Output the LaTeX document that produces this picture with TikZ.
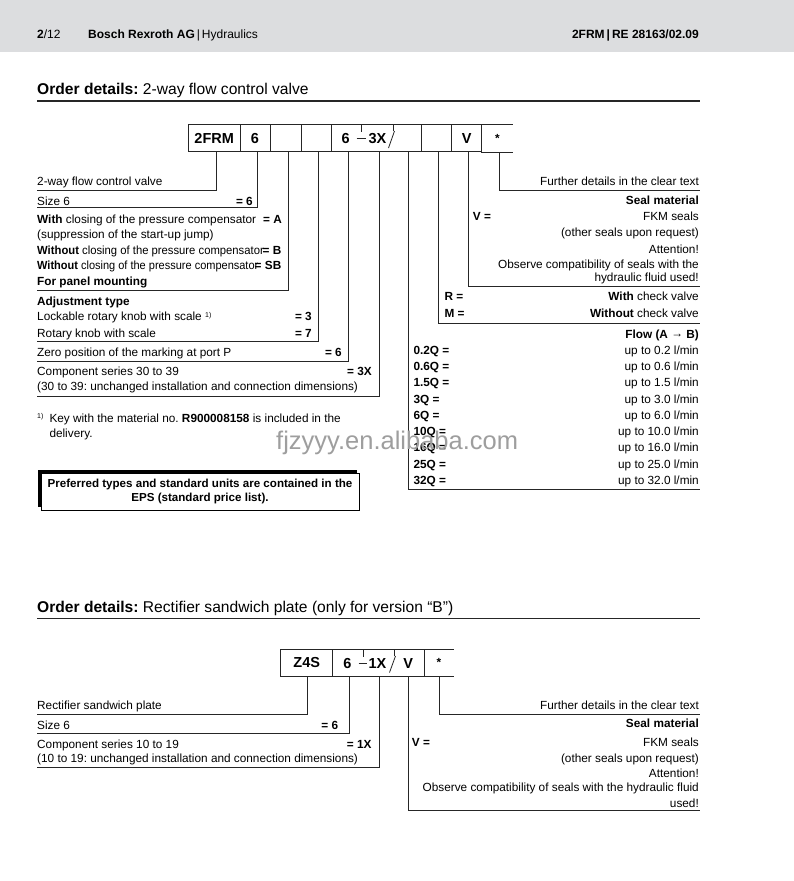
\documentclass[tikz,border=0pt]{standalone}
\usepackage{fontspec}
\setmainfont{Liberation Sans}
\newcommand{\myfs}{\fontsize{11.8}{13}\selectfont}
\newcommand{\mysup}[1]{\raisebox{0.5ex}{\fontsize{7}{8}\selectfont #1}}
\definecolor{hdrgray}{HTML}{DCDDDF}
\frenchspacing
\begin{document}
\begin{tikzpicture}[x=1pt,y=-1pt,
 lbl/.style={anchor=base west,inner sep=0pt,font=\myfs},
 lblr/.style={anchor=base east,inner sep=0pt,font=\myfs},
 blbl/.style={anchor=base west,inner sep=0pt,font=\myfs\bfseries},
 blblr/.style={anchor=base east,inner sep=0pt,font=\myfs\bfseries},
 lead/.style={line width=0.8pt,draw=black!85},
 cell/.style={draw=black!85,line width=0.8pt,minimum height=27pt,inner sep=0pt,font=\fontsize{14.5}{16}\selectfont\bfseries},
 celltxt/.style={anchor=base,inner sep=0pt,font=\fontsize{14.5}{16}\selectfont\bfseries},
 hdr/.style={anchor=base west,inner sep=0pt,font=\fontsize{12}{14}\selectfont},
 ttl/.style={anchor=base west,inner sep=0pt,font=\fontsize{15.6}{18}\selectfont},
 rulel/.style={line width=1.3pt,draw=black!85}]
\useasboundingbox (0,0) rectangle (794,881);
\fill[white] (0,0) rectangle (794,881);
\fill[hdrgray] (0,0) rectangle (794,52);
% header
\node[hdr] (h1) at (37,38) {\textbf{2}/12};
\node[hdr] (h2) at (88,38) {\textbf{Bosch Rexroth AG}\,|\,Hydraulics};
\node[hdr,anchor=base east] (h3) at (699,38) {\textbf{2FRM\,|\,RE 28163/02.09}};
% title 1
\node[ttl] (t1) at (37,94) {\textbf{Order details:} 2-way flow control valve};
\draw[rulel] (37,101) -- (700,101);
% code cells row 1
\node[cell,minimum width=51.7pt] (c1) at (214.2,138.2) {2FRM};
\node[cell,minimum width=30pt] (c2) at (255,138.2) {6};
\node[cell,minimum width=31.7pt] (c3) at (285.8,138.2) {};
\node[cell,minimum width=30pt] (c4) at (316.7,138.2) {};
\node[cell,minimum width=90pt] (c5) at (376.7,138.2) {};
\node[cell,minimum width=30pt] (c6) at (436.7,138.2) {};
\node[cell,minimum width=30pt] (c7) at (466.7,138.2) {V};
\node[cell,draw=none,minimum width=31.3pt,font=\myfs\bfseries] (c8) at (497.3,138.2) {*};
\draw[lead] (c8.north west) -- (c8.north east) (c8.south west) -- (c8.south east);
\node[celltxt] (c5a) at (345.7,143.5) {6};
\node[celltxt] (c5b) at (377.5,143.5) {3X};
\draw[lead] (356.5,138.5) -- (365.5,138.5);
\draw[lead] (361.7,124.7) -- (361.7,132);
\draw[lead] (393.5,124.7) -- (393.5,131);
\draw[lead] (388.5,148) -- (394.5,131);
% leader end points row 1
\coordinate (e1) at (37,190.7);
\coordinate (e2) at (37,207.5);
\coordinate (e3) at (37,290);
\coordinate (e4) at (37,341.7);
\coordinate (e5) at (37,361.7);
\coordinate (e6) at (37,396);
\coordinate (e7) at (700,489.3);
\coordinate (e8) at (700,323.3);
\coordinate (e9) at (700,286.7);
\coordinate (e10) at (700,190.7);
\draw[lead] ([xshift=1.8pt]c1.south) |- (e1);
\draw[lead] ([xshift=2.5pt]c2.south) |- (e2);
\draw[lead] ([xshift=2.2pt]c3.south) |- (e3);
\draw[lead] ([xshift=1.3pt]c4.south) |- (e4);
\draw[lead] ([xshift=-28.7pt]c5.south) |- (e5);
\draw[lead] ([xshift=2.3pt]c5.south) |- (e6);
\draw[lead] ([xshift=31.3pt]c5.south) |- (e7);
\draw[lead] ([xshift=1.3pt]c6.south) |- (e8);
\draw[lead] ([xshift=1.3pt]c7.south) |- (e9);
\draw[lead] ([xshift=1.7pt]c8.south) |- (e10);
% left labels
\node[lbl] (l1) at (37,185.5) {2-way flow control valve};
\node[lbl] (l2) at (37,205) {Size 6};
\node[blblr] (l2r) at (253,205) {= 6};
\node[lbl] (l3) at (37,223) {\textbf{With} closing of the pressure compensator};
\node[blblr] (l3r) at (282,223) {= A};
\node[lbl] (l4) at (37,238.5) {(suppression of the start-up jump)};
\node[lbl] (l5) at (37,254) {\scalebox{0.955}[1]{\textbf{Without} closing of the pressure compensator}};
\node[blblr] (l5r) at (281.5,254) {= B};
\node[lbl] (l6) at (37,269.5) {\scalebox{0.932}[1]{\textbf{Without} closing of the pressure compensator}};
\node[blblr] (l6r) at (281.5,269.5) {= SB};
\node[blbl] (l7) at (37,285) {For panel mounting};
\node[blbl] (l8) at (37,305.5) {Adjustment type};
\node[lbl] (l9) at (37,320.5) {Lockable rotary knob with scale \mysup{1)}};
\node[blblr] (l9r) at (312,320.5) {= 3};
\node[lbl] (l10) at (37,337) {Rotary knob with scale};
\node[blblr] (l10r) at (312,337) {= 7};
\node[lbl] (l11) at (37,356.5) {Zero position of the marking at port P};
\node[blblr] (l11r) at (342,356.5) {= 6};
\node[lbl] (l12) at (37,375.5) {Component series 30 to 39};
\node[blblr] (l12r) at (372,375.5) {= 3X};
\node[lbl] (l13) at (37,390.5) {(30 to 39: unchanged installation and connection dimensions)};
\node[lbl] (fn0) at (37,422) {\mysup{1)}};
\node[lbl] (fn1) at (49.3,422) {Key with the material no. \textbf{R900008158} is included in the};
\node[lbl] (fn2) at (49.3,437) {delivery.};
% right labels
\node[lblr] (r1) at (699,185.5) {Further details in the clear text};
\node[blblr] (r2) at (699,204.5) {Seal material};
\node[blbl] (r3l) at (472.7,220.5) {V =};
\node[lblr] (r3) at (699,220.5) {FKM seals};
\node[lblr] (r4) at (699,236.5) {(other seals upon request)};
\node[lblr] (r5) at (699,253) {Attention!};
\node[lblr] (r6) at (699,268) {Observe compatibility of seals with the};
\node[lblr] (r7) at (699,281.5) {hydraulic fluid used!};
\node[blbl] (r8l) at (444.3,300.5) {R =};
\node[lblr] (r8) at (699,300.5) {\textbf{With} check valve};
\node[blbl] (r9l) at (444.3,317.5) {M =};
\node[lblr] (r9) at (699,317.5) {\textbf{Without} check valve};
\node[blblr] (r10) at (699,338) {Flow (A \raisebox{0.1ex}{→} B)};
\foreach \q/\v/\y [count=\i] in {0.2Q/0.2/354.5,0.6Q/0.6/370,1.5Q/1.5/386,3Q/3.0/403,6Q/6.0/419,10Q/10.0/435,16Q/16.0/451.5,25Q/25.0/468,32Q/32.0/484}{
  \node[blbl] (q\i) at (413.3,\y) {\q\ =};
  \node[lblr] (v\i) at (699,\y) {up to \v\ l/min};
}
% preferred box
\fill[black] (38,470) rectangle (356.6,507);
\fill[white] (41,473) rectangle (359.2,510);
\draw[line width=0.7pt] (41,473) rectangle (359.2,510);
\node[anchor=base,inner sep=0pt,font=\fontsize{11.6}{13}\selectfont\bfseries] (p1) at (200,487) {Preferred types and standard units are contained in the};
\node[anchor=base,inner sep=0pt,font=\fontsize{11.6}{13}\selectfont\bfseries] (p2) at (200,501) {EPS (standard price list).};
% watermark
\node[anchor=base west,inner sep=0pt,font=\fontsize{25.5}{30}\selectfont,text=black!38] (wm) at (276,449) {fjzyyy.en.alibaba.com};
% title 2
\node[ttl] (t2) at (37,612.5) {\textbf{Order details:} Rectifier sandwich plate (only for version “B”)};
\draw[rulel] (37,618.3) -- (700,618.3);
% code cells row 2
\node[cell,minimum width=52pt,minimum height=26.7pt] (d1) at (306.7,662.7) {Z4S};
\node[cell,minimum width=91.3pt,minimum height=26.7pt] (d2) at (378.35,662.7) {};
\node[cell,draw=none,minimum width=30pt,minimum height=26.7pt,font=\myfs\bfseries] (d3) at (439,662.7) {*};
\draw[lead] (d3.north west) -- (d3.north east) (d3.south west) -- (d3.south east);
\node[celltxt] (d2a) at (347.3,668) {6};
\node[celltxt] (d2b) at (377.5,668) {1X};
\node[celltxt] (d2c) at (408.3,668) {V};
\draw[lead] (358.5,663) -- (367,663);
\draw[lead] (363.3,649.3) -- (363.3,656.5);
\draw[lead] (394,649.3) -- (394,656);
\draw[lead] (389.5,672.5) -- (395.5,656);
\coordinate (f1) at (37,714);
\coordinate (f2) at (37,733.3);
\coordinate (f3) at (37,767.3);
\coordinate (f4) at (700,810);
\coordinate (f5) at (700,714);
\draw[lead] ([xshift=0.6pt]d1.south) |- (f1);
\draw[lead] ([xshift=-29.3pt]d2.south) |- (f2);
\draw[lead] ([xshift=1pt]d2.south) |- (f3);
\draw[lead] ([xshift=30pt]d2.south) |- (f4);
\draw[lead] ([xshift=0.3pt]d3.south) |- (f5);
\node[lbl] (m1) at (37,709.5) {Rectifier sandwich plate};
\node[lbl] (m2) at (37,729) {Size 6};
\node[blblr] (m2r) at (338.3,729) {= 6};
\node[lbl] (m3) at (37,748) {Component series 10 to 19};
\node[blblr] (m3r) at (371.7,748) {= 1X};
\node[lbl] (m4) at (37,762) {(10 to 19: unchanged installation and connection dimensions)};
\node[lblr] (s1) at (699,709.5) {Further details in the clear text};
\node[blblr] (s2) at (699,727) {Seal material};
\node[blbl] (s3l) at (411.7,746) {V =};
\node[lblr] (s3) at (699,746) {FKM seals};
\node[lblr] (s4) at (699,762) {(other seals upon request)};
\node[lblr] (s5) at (699,777) {Attention!};
\node[lblr] (s6) at (699,791.5) {Observe compatibility of seals with the hydraulic fluid};
\node[lblr] (s7) at (699,807) {used!};
\end{tikzpicture}
\end{document}
